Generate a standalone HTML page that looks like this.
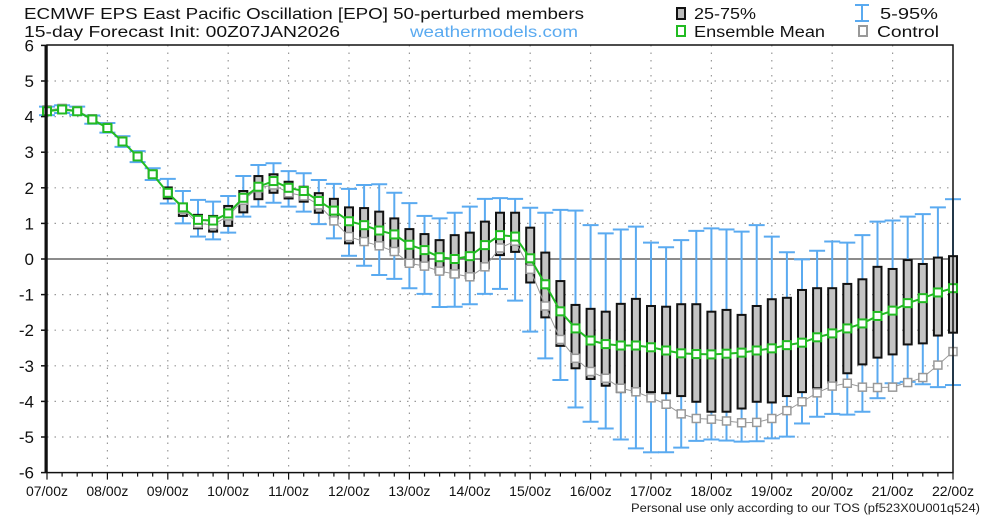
<!DOCTYPE html>
<html><head><meta charset="utf-8"><style>
html,body{margin:0;padding:0;background:#fff;}
svg{display:block;font-family:"Liberation Sans",sans-serif;}
</style></head><body>
<svg id="chart" width="1000" height="516" viewBox="0 0 1000 516" xmlns="http://www.w3.org/2000/svg">
<g font-size="15.5" fill="#111">
<text x="24" y="19" textLength="560" lengthAdjust="spacingAndGlyphs">ECMWF EPS East Pacific Oscillation [EPO]  50-perturbed members</text>
<text x="24" y="37" textLength="316" lengthAdjust="spacingAndGlyphs">15-day Forecast Init: 00Z07JAN2026</text>
<text x="410" y="37" fill="#5aaaf0" textLength="168" lengthAdjust="spacingAndGlyphs">weathermodels.com</text>
</g>
<g font-size="15.5" fill="#111">
<g><rect x="677" y="8" width="8" height="11" fill="#bbb" stroke="#111" stroke-width="2"/><text x="694" y="19" textLength="62" lengthAdjust="spacingAndGlyphs">25-75%</text></g>
<g stroke="#5aaaf0" stroke-width="2"><line x1="862" y1="5" x2="862" y2="21"/><line x1="855" y1="5" x2="869" y2="5"/><line x1="855" y1="21" x2="869" y2="21"/><text x="880" y="19" stroke="none" fill="#111" textLength="58" lengthAdjust="spacingAndGlyphs">5-95%</text></g>
<g><rect x="677" y="26" width="8" height="10" fill="#fff" stroke="#22bb22" stroke-width="2"/><text x="694" y="37" textLength="131" lengthAdjust="spacingAndGlyphs">Ensemble Mean</text></g>
<g><rect x="859" y="26" width="8" height="10" fill="#fff" stroke="#999" stroke-width="2"/><text x="877" y="37" textLength="62" lengthAdjust="spacingAndGlyphs">Control</text></g>
</g>
<g id="grid"></g>
<g id="marks"></g>
<g id="axes"></g>
<text x="631" y="512" font-size="11.5" fill="#222" textLength="349" lengthAdjust="spacingAndGlyphs">Personal use only according to our TOS (pf523X0U001q524)</text>
</svg>
<script>
const xLabels = ["07/00z","08/00z","09/00z","10/00z","11/00z","12/00z","13/00z","14/00z","15/00z","16/00z","17/00z","18/00z","19/00z","20/00z","21/00z","22/00z"];
const yTicks = [6,5,4,3,2,1,0,-1,-2,-3,-4,-5,-6];
const meanVals = [4.15,4.2,4.15,3.92,3.68,3.3,2.88,2.38,1.86,1.45,1.1,1.08,1.28,1.72,2.03,2.19,2.0,1.91,1.63,1.36,1.06,0.95,0.8,0.69,0.4,0.25,0.05,0.0,0.08,0.39,0.67,0.63,0.02,-0.71,-1.47,-1.95,-2.29,-2.39,-2.43,-2.43,-2.48,-2.57,-2.65,-2.67,-2.68,-2.66,-2.63,-2.57,-2.51,-2.42,-2.35,-2.2,-2.09,-1.95,-1.81,-1.6,-1.45,-1.24,-1.1,-0.94,-0.82];
const ctrlVals = [4.19,4.23,4.17,3.94,3.7,3.32,2.89,2.39,1.86,1.4,1.0,0.96,1.21,1.65,2.0,2.08,1.86,1.77,1.52,1.07,0.63,0.49,0.37,0.21,-0.12,-0.2,-0.34,-0.42,-0.5,-0.22,0.31,0.5,-0.29,-1.32,-2.26,-2.79,-3.16,-3.35,-3.63,-3.73,-3.9,-4.08,-4.35,-4.48,-4.5,-4.55,-4.6,-4.59,-4.48,-4.26,-4.01,-3.76,-3.57,-3.49,-3.6,-3.61,-3.6,-3.47,-3.33,-2.98,-2.6];
const boxHigh = [4.22,4.27,4.22,3.98,3.76,3.38,2.96,2.47,2.01,1.56,1.24,1.21,1.49,1.91,2.33,2.38,2.17,2.03,1.85,1.69,1.45,1.43,1.33,1.14,0.84,0.7,0.53,0.67,0.74,1.05,1.3,1.3,0.88,0.18,-0.62,-1.29,-1.4,-1.48,-1.26,-1.12,-1.32,-1.34,-1.27,-1.27,-1.48,-1.43,-1.57,-1.32,-1.13,-1.09,-0.87,-0.82,-0.82,-0.7,-0.57,-0.22,-0.28,-0.03,-0.14,0.04,0.08];
const boxLow = [4.1,4.15,4.1,3.86,3.6,3.22,2.8,2.3,1.7,1.21,0.86,0.77,0.93,1.31,1.68,1.86,1.7,1.61,1.3,1.14,0.44,0.45,0.35,0.2,-0.17,-0.22,-0.38,-0.51,-0.54,-0.26,0.11,0.2,-0.66,-1.64,-2.44,-3.07,-3.37,-3.56,-3.74,-3.74,-3.74,-3.77,-3.85,-4.01,-4.29,-4.29,-4.2,-4.01,-4.03,-3.85,-3.74,-3.63,-3.47,-3.21,-2.96,-2.77,-2.68,-2.4,-2.37,-2.15,-2.07];
const whiskHigh = [4.28,4.32,4.28,4.03,3.82,3.45,3.03,2.55,2.25,1.91,1.66,1.61,1.77,2.33,2.64,2.69,2.47,2.41,2.22,2.11,1.97,2.08,2.1,1.86,1.57,1.21,1.14,1.3,1.47,1.69,1.71,1.69,1.44,1.3,1.38,1.36,0.95,0.72,0.83,0.91,0.46,0.33,0.53,0.79,0.86,0.83,0.77,0.95,0.63,0.19,-0.01,0.23,0.49,0.46,0.67,1.05,1.08,1.19,1.26,1.45,1.68];
const whiskLow = [4.04,4.1,4.05,3.8,3.55,3.15,2.72,2.22,1.56,1.0,0.63,0.55,0.74,1.19,1.47,1.58,1.47,1.33,0.98,0.58,0.09,-0.19,-0.45,-0.56,-0.82,-0.98,-1.35,-1.34,-1.27,-0.98,-0.84,-1.17,-2.04,-2.79,-3.4,-4.17,-4.57,-4.76,-5.07,-5.32,-5.43,-5.43,-5.3,-5.11,-5.07,-5.1,-5.13,-5.12,-5.04,-4.99,-4.62,-4.43,-4.35,-4.37,-4.29,-3.91,-3.49,-3.45,-3.52,-3.6,-3.54];

const NS='http://www.w3.org/2000/svg';
const X0=47,X1=953,Y0=45,Y1=472.6;
const xs=i=>X0+(X1-X0)*i/60;
const ys=v=>259-35.6*v;
function mk(parent,tag,attrs){const e=document.createElementNS(NS,tag);for(const k in attrs)e.setAttribute(k,attrs[k]);parent.appendChild(e);return e;}
const grid=document.getElementById('grid'),marks=document.getElementById('marks'),axes=document.getElementById('axes');
yTicks.forEach(v=>{
  if(v===0||v===6||v===-6)return;
  const l=mk(grid,'line',{x1:X0,x2:X1,y1:ys(v),y2:ys(v),stroke:'#999','stroke-width':1.2,'stroke-dasharray':'1.5 6'});
  
  
});
xLabels.forEach((t,d)=>{
  if(d===0||d===15)return;
  const x=xs(d*4);
  const l=mk(grid,'line',{x1:x,x2:x,y1:Y0,y2:Y1,stroke:'#999','stroke-width':1.2,'stroke-dasharray':'1.5 6'});
  
  
});
const zl=mk(grid,'line',{x1:X0,x2:X1,y1:ys(0),y2:ys(0),stroke:'#666','stroke-width':1.5});


meanVals.forEach((m,i)=>{
  const x=xs(i);
  const g=mk(marks,'g',{stroke:'#5aaaf0','stroke-width':2});
  
  
  mk(g,'line',{x1:x,x2:x,y1:ys(whiskHigh[i]),y2:ys(whiskLow[i])});
  mk(g,'line',{x1:x-8,x2:x+8,y1:ys(whiskHigh[i]),y2:ys(whiskHigh[i])});
  mk(g,'line',{x1:x-8,x2:x+8,y1:ys(whiskLow[i]),y2:ys(whiskLow[i])});
});
meanVals.forEach((m,i)=>{
  const x=xs(i),t=ys(boxHigh[i]),b=ys(boxLow[i]);
  const r=mk(marks,'rect',{x:x-4,y:t,width:8,height:Math.max(b-t,1),fill:'#c4c4c4',stroke:'#111','stroke-width':2});
  
  
});
function series(vals,color,lw,name,sw){
  const p=mk(marks,'polyline',{points:vals.map((v,i)=>xs(i)+','+ys(v)).join(' '),fill:'none',stroke:color,'stroke-width':lw});
  
  
  vals.forEach((v,i)=>{
    const r=mk(marks,'rect',{x:xs(i)-4,y:ys(v)-4,width:8,height:8,fill:'#fff',stroke:color,'stroke-width':sw});
    
    
  });
}
series(ctrlVals,'#999',1,'control',1.5);
series(meanVals,'#22bb22',2,'ensemble-mean',2);
const fr=mk(axes,'rect',{x:X0,y:Y0,width:X1-X0,height:Y1-Y0,fill:'none',stroke:'#111','stroke-width':1.5});


const la=mk(axes,'line',{x1:X0-1,x2:X0-1,y1:Y0,y2:Y1,stroke:'#111','stroke-width':3});


yTicks.forEach(v=>{
  mk(axes,'line',{x1:X0-6,x2:X0,y1:ys(v),y2:ys(v),stroke:'#111','stroke-width':1.5});
  const t=mk(axes,'text',{x:34,y:ys(v)+6,'font-size':17,'text-anchor':'end',fill:'#111'});
  t.textContent=v;
  
  
});
for(let i=0;i<=60;i++){
  const x=xs(i);
  mk(axes,'line',{x1:x,x2:x,y1:Y1,y2:Y1+(i%4===0?7:4),stroke:'#111','stroke-width':1.2});
}
xLabels.forEach((s,d)=>{
  const t=mk(axes,'text',{x:xs(d*4),y:496,'font-size':14,'text-anchor':'middle',fill:'#111'});
  t.textContent=s;
  
  
});
</script>
</body></html>
